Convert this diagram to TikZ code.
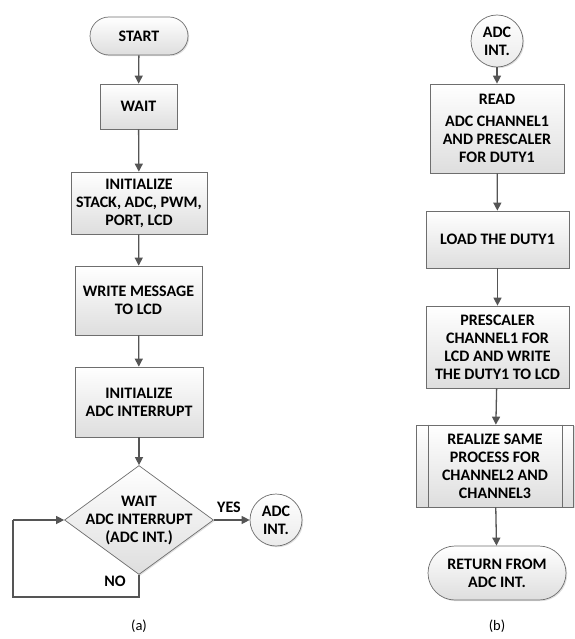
\documentclass[tikz,border=0pt]{standalone}
\usepackage{fontspec}
\setmainfont{Carlito}
\usetikzlibrary{shapes.geometric,shapes.misc,arrows.meta,shadows}
\definecolor{edge}{HTML}{6E6E6E}
\definecolor{arr}{HTML}{555555}
\tikzset{
  base/.style={draw=edge, line width=0.7pt, top color=white, bottom color=black!13,
    drop shadow={shadow xshift=1.2pt, shadow yshift=-1.2pt, opacity=0.25},
    align=center, font=\bfseries\fontsize{16}{18}\selectfont, inner sep=0pt},
  procbox/.style={base, rectangle},
  termbox/.style={base, rounded rectangle},
  conn/.style={base, circle, minimum size=52pt, top color=white, bottom color=black!8},
  decbox/.style={base, diamond},
  lbl/.style={align=center, font=\bfseries\fontsize{16}{18}\selectfont, inner sep=0pt},
  captext/.style={font=\fontsize{14.5}{16}\selectfont, inner sep=0pt},
  flow/.style={draw=arr, line width=1.3pt, -{Triangle[width=8pt,length=8pt]}},
  plain/.style={draw=arr, line width=1.1pt}
}
\begin{document}
\begin{tikzpicture}[x=1pt,y=-1pt]
\useasboundingbox (0,0) rectangle (574,639);
% (a)
\node[termbox, minimum width=98pt, minimum height=38pt] (start) at (139,36) {START};
\node[procbox, minimum width=77pt, minimum height=45pt] (wait) at (138.5,106.5) {WAIT};
\node[procbox, minimum width=136pt, minimum height=62pt] (init) at (139,203) {INITIALIZE\\STACK, ADC, PWM,\\PORT, LCD};
\node[procbox, minimum width=127pt, minimum height=69pt] (write) at (138.5,300.5) {WRITE MESSAGE\\TO LCD};
\node[procbox, minimum width=128pt, minimum height=70pt] (initadc) at (139,402) {INITIALIZE\\ADC INTERRUPT};
\node[decbox, minimum width=149pt, minimum height=109pt] (dec) at (139,520) {};
\node[lbl] (dectext) at (139,521) {WAIT\\ADC INTERRUPT\\(ADC INT.)};
\node[conn] (adca) at (276,520) {ADC\\INT.};
\node[lbl] (yes) at (229,507) {YES};
\node[lbl] (no) at (115,581) {NO};
\coordinate (l1) at (139,597);
\coordinate (l2) at (13,597);
\coordinate (l3) at (13,520);
\draw[flow] (start) -- (wait);
\draw[flow] (wait) -- (init);
\draw[flow] (init) -- (write);
\draw[flow] (write) -- (initadc);
\draw[flow] (initadc) -- (dec.north);
\draw[flow] (dec.east) -- (adca);
\draw[plain] (dec.south) -- (l1) -- (l2) -- (l3);
\draw[flow] (l3) -- (dec.west);
\node[captext] (capa) at (139,626) {(a)};
% (b)
\node[conn] (adcb) at (497,41) {ADC\\INT.};
\node[procbox, minimum width=134pt, minimum height=89pt] (read) at (497,128.5) {READ\\[4pt]ADC CHANNEL1\\AND PRESCALER\\FOR DUTY1};
\node[procbox, minimum width=143pt, minimum height=57pt] (load) at (497.5,239.5) {LOAD THE DUTY1};
\node[procbox, minimum width=143pt, minimum height=82pt] (presc) at (497.5,347) {PRESCALER\\CHANNEL1 FOR\\LCD AND WRITE\\THE DUTY1 TO LCD};
\node[procbox, minimum width=157pt, minimum height=82pt] (real) at (495,466) {REALIZE SAME\\PROCESS FOR\\CHANNEL2 AND\\CHANNEL3};
\draw[draw=edge, line width=0.7pt] ([xshift=12pt]real.north west) -- ([xshift=12pt]real.south west);
\draw[draw=edge, line width=0.7pt] ([xshift=-12pt]real.north east) -- ([xshift=-12pt]real.south east);
\node[termbox, minimum width=138pt, minimum height=54pt] (ret) at (497,573) {RETURN FROM\\ADC INT.};
\draw[flow] (adcb) -- (read);
\draw[flow] (read) -- (load);
\draw[flow] (load) -- (presc);
\draw[flow] (presc) -- (real);
\draw[flow] (real) -- (ret);
\node[captext] (capb) at (497,626) {(b)};
\end{tikzpicture}
\end{document}
